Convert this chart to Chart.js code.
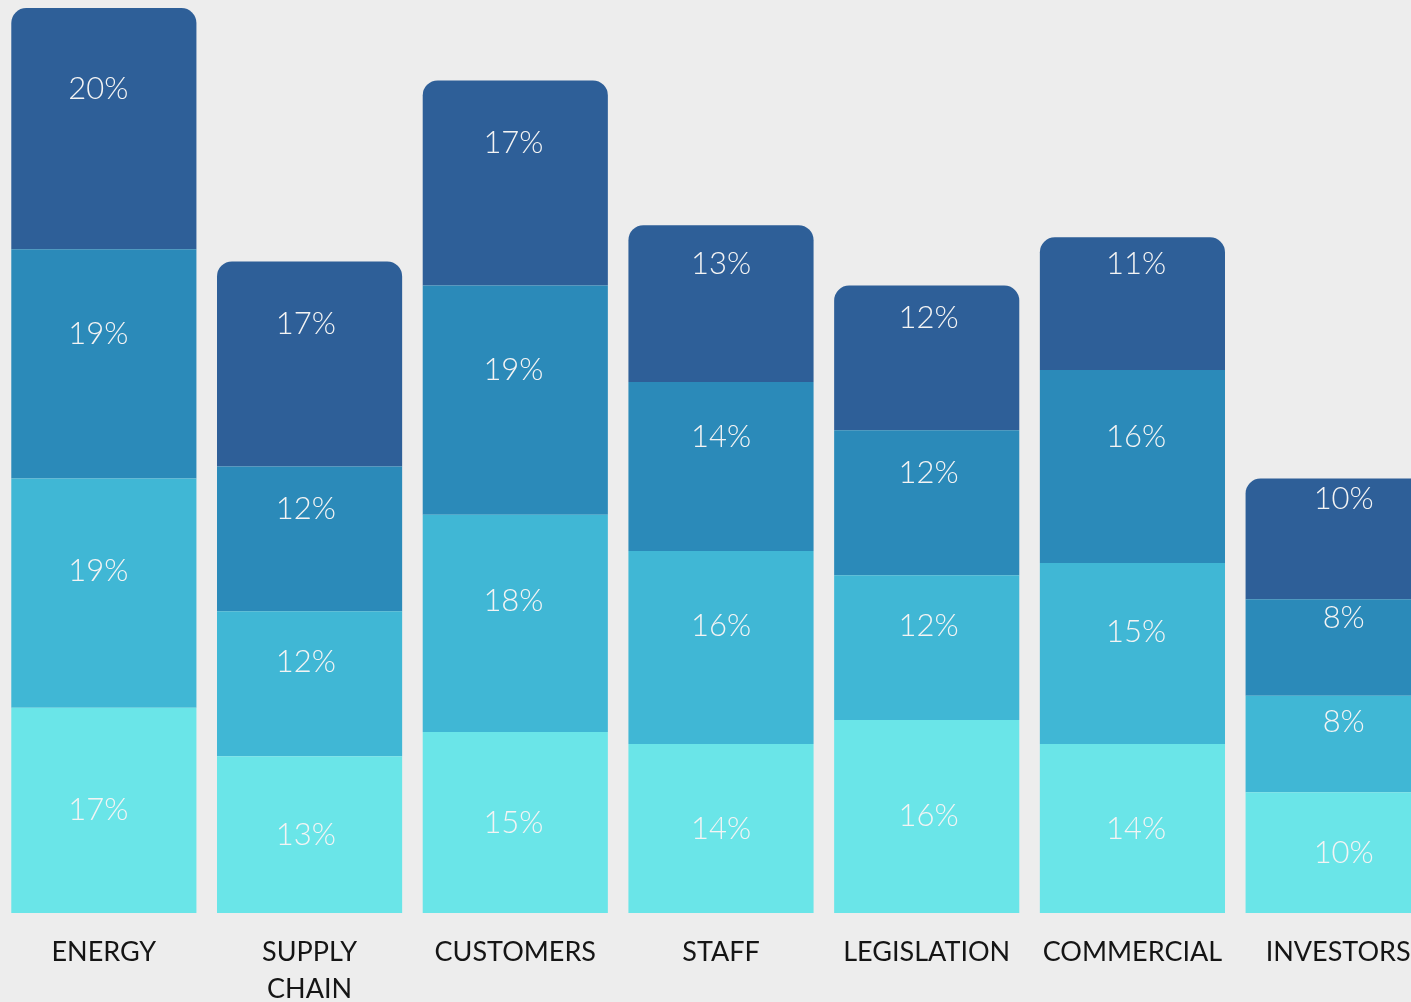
<!DOCTYPE html>
<html>
<head>
<meta charset="utf-8">
<script src="https://cdn.jsdelivr.net/npm/chart.js@4"></script>
<style>
  html, body { margin: 0; padding: 0; background: #ededed; overflow: hidden; }
  #wrap { width: 1441px; height: 1002px; }
</style>
</head>
<body>
<div id="wrap"><canvas id="c" width="1441" height="1002"></canvas></div>
<script>
const categories = [["ENERGY"], ["SUPPLY", "CHAIN"], ["CUSTOMERS"], ["STAFF"], ["LEGISLATION"], ["COMMERCIAL"], ["INVESTORS"]];
const seriesBottom = [17, 13, 15, 14, 16, 14, 10];
const seriesThird  = [19, 12, 18, 16, 12, 15, 8];
const seriesSecond = [19, 12, 19, 14, 12, 16, 8];
const seriesTop    = [20, 17, 17, 13, 12, 11, 10];
const yMax = 75;

const colors = ["#6ae5e8", "#40b7d5", "#2b8ab9", "#2e5f98"];
const labelLift = [0, 22, 30, 40];
const labelSpread = 1.009;

const labelPlugin = {
  id: 'segLabels',
  afterDatasetsDraw(chart) {
    const ctx = chart.ctx;
    const ca = chart.chartArea;
    const mid = 720;
    ctx.save();
    ctx.fillStyle = '#f4f4f4';
    ctx.font = '300 31px Lato, "Open Sans", sans-serif';
    ctx.textAlign = 'center';
    ctx.textBaseline = 'middle';
    chart.data.datasets.forEach((ds, di) => {
      const meta = chart.getDatasetMeta(di);
      meta.data.forEach((el, i) => {
        const p = el.getProps(['x', 'y', 'base'], true);
        const yc = (p.y + p.base) / 2 - labelLift[di];
        const xc = mid + (p.x - mid) * labelSpread;
        ctx.fillText(ds.data[i] + '%', xc, yc);
      });
    });
    ctx.restore();
  }
};

new Chart(document.getElementById('c'), {
  type: 'bar',
  data: {
    labels: categories,
    datasets: [
      { data: seriesBottom, backgroundColor: colors[0] },
      { data: seriesThird, backgroundColor: colors[1] },
      { data: seriesSecond, backgroundColor: colors[2] },
      { data: seriesTop, backgroundColor: colors[3],
        borderRadius: { topLeft: 15, topRight: 15, bottomLeft: 0, bottomRight: 0 },
        borderSkipped: false }
    ]
  },
  options: {
    responsive: false,
    animation: false,
    devicePixelRatio: 1,
    layout: { padding: { top: 8, left: 1, right: 0, bottom: 0 } },
    datasets: { bar: { barPercentage: 0.9, categoryPercentage: 1.0, borderWidth: 0 } },
    plugins: { legend: { display: false }, tooltip: { enabled: false } },
    scales: {
      x: {
        stacked: true,
        grid: { display: false, drawTicks: false },
        border: { display: false },
        ticks: {
          color: '#151515',
          padding: 20,
          maxRotation: 0,
          autoSkip: false,
          font: { family: 'Lato, "Open Sans", sans-serif', size: 27, weight: '400', lineHeight: 1.4 }
        },
        afterFit(scale) { scale.height = 89; }
      },
      y: {
        stacked: true,
        display: false,
        min: 0,
        max: yMax
      }
    }
  },
  plugins: [labelPlugin]
});
</script>
</body>
</html>
